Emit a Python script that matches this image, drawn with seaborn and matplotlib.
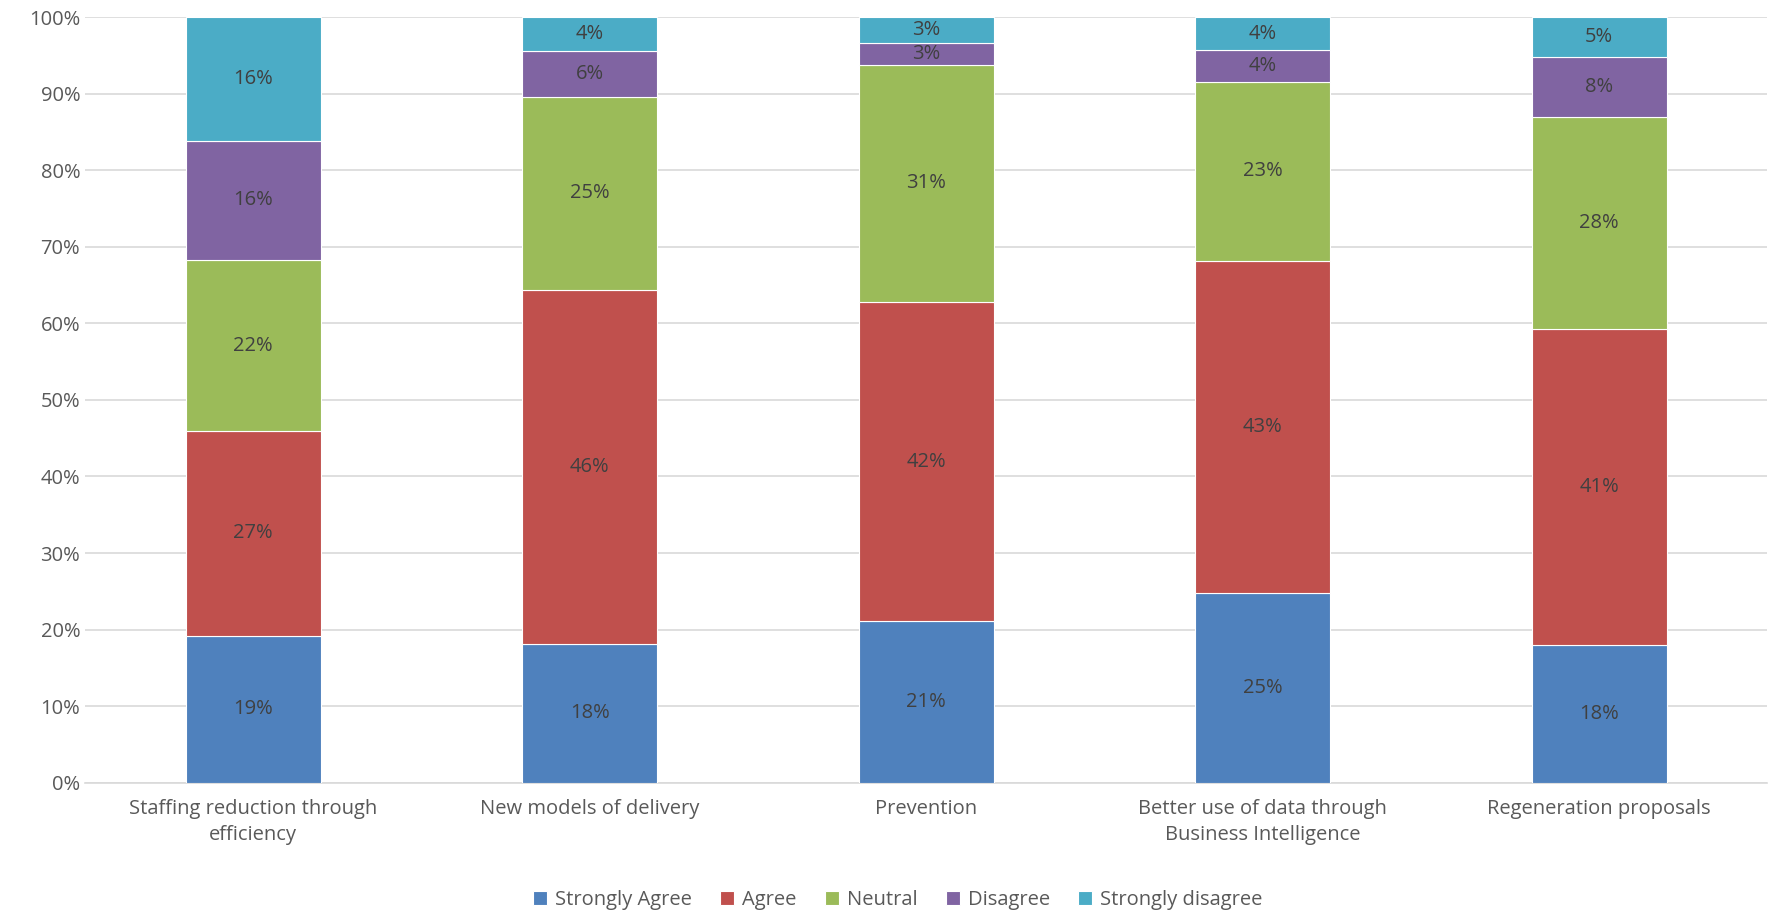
import numpy as np
import matplotlib.pyplot as plt
import seaborn as sns

categories = ['Staffing reduction through\nefficiency', 'New models of delivery', 'Prevention',
              'Better use of data through\nBusiness Intelligence', 'Regeneration proposals']
series = ['Strongly Agree', 'Agree', 'Neutral', 'Disagree', 'Strongly disagree']
strongly_agree = [19.2, 18.1, 21.1, 24.8, 18.0]
agree = [26.7, 46.3, 41.7, 43.4, 41.3]
neutral = [22.4, 25.2, 31.0, 23.4, 27.7]
disagree = [15.6, 6.0, 2.8, 4.1, 7.8]
strongly_disagree = [16.1, 4.4, 3.4, 4.3, 5.2]
colors = ['#4F81BD', '#C0504D', '#9BBB59', '#8064A2', '#4BACC6']

sns.set_style('white')
plt.rcParams['font.family'] = ['Open Sans', 'DejaVu Sans']

fig = plt.figure(figsize=(17.71, 9.10), dpi=100)
ax = fig.add_axes([0.048, 0.14, 0.95, 0.841])

bottom = np.zeros(len(categories))
for name, vals, col in zip(series, [strongly_agree, agree, neutral, disagree, strongly_disagree], colors):
    vals = np.array(vals)
    sns.barplot(x=categories, y=vals, bottom=bottom, color=col, saturation=1, width=0.4,
                edgecolor='white', linewidth=0.8, label=name, ax=ax, zorder=3)
    for i, v in enumerate(vals):
        ax.text(i, bottom[i] + v / 2, f'{round(v):.0f}%', ha='center', va='center',
                fontsize=14.5, color='#404040', zorder=4)
    bottom += vals

ax.set_ylim(0, 100)
ax.set_xlim(-0.5, 4.5)
ax.set_yticks(range(0, 101, 10))
ax.set_yticklabels([f'{t}%' for t in range(0, 101, 10)])
ax.yaxis.grid(True, color='#d9d9d9', linewidth=1.2, zorder=0)
ax.tick_params(axis='both', labelsize=14.5, colors='#595959', length=0)
ax.tick_params(axis='x', pad=12)
for lbl in ax.get_xticklabels():
    lbl.set_linespacing(1.35)
for s in ['top', 'right', 'left']:
    ax.spines[s].set_visible(False)
ax.spines['bottom'].set_color('#d9d9d9')
ax.spines['bottom'].set_linewidth(1.2)

ax.legend(loc='lower center', bbox_to_anchor=(0.483, -0.19), ncol=5, frameon=False,
          fontsize=14.5, labelcolor='#595959', handlelength=0.7, handleheight=0.7,
          columnspacing=1.4, handletextpad=0.4)

fig.savefig('out.png', dpi=100)
